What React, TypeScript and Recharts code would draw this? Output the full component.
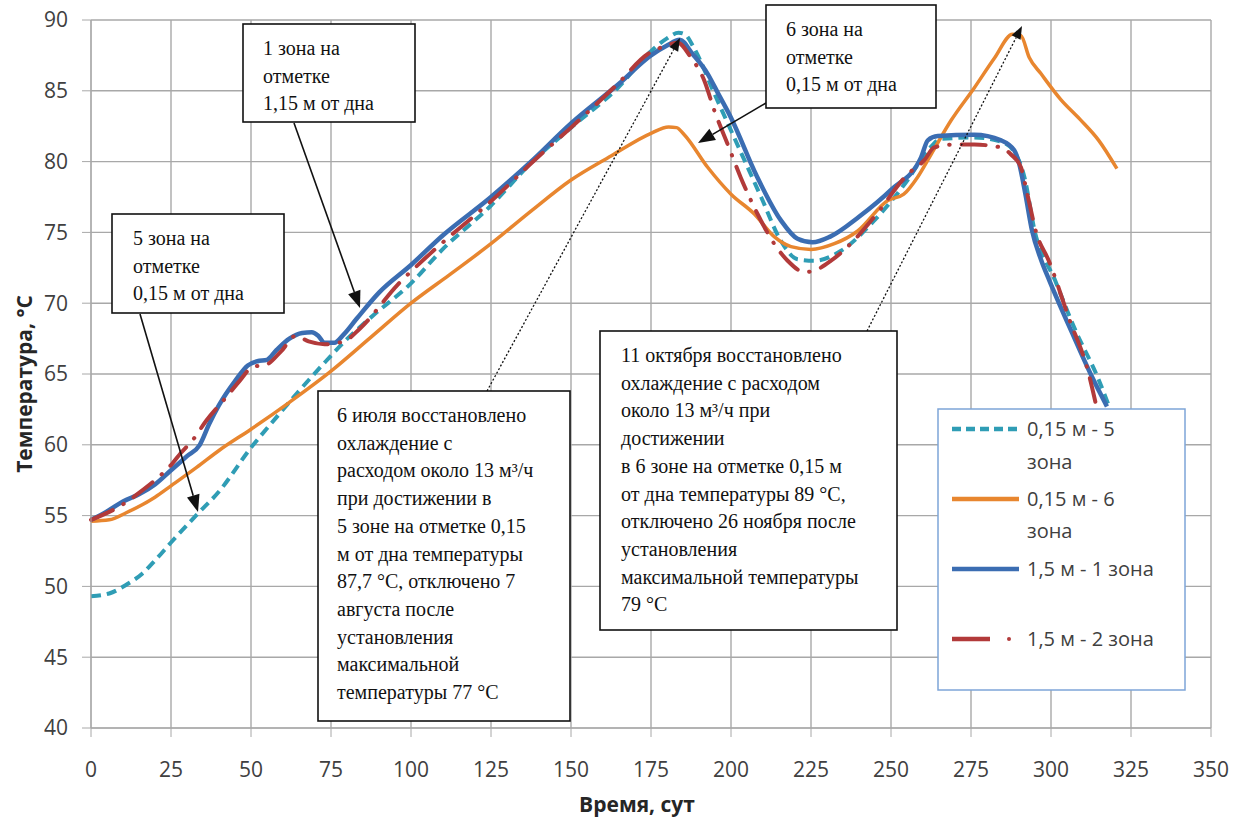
import React from "react";
import { LineChart, Line, XAxis, YAxis, CartesianGrid } from "recharts";

const dayTicks = [0, 25, 50, 75, 100, 125, 150, 175, 200, 225, 250, 275, 300, 325, 350];
const tempTicks = [40, 45, 50, 55, 60, 65, 70, 75, 80, 85, 90];

// 0,15 м - 5 зона
const zone5Days = [0, 5.7, 10.9, 16, 20.3, 25, 33, 40, 50, 57.8, 65, 73.4, 79.7, 84, 88.5, 100, 109.4, 125, 137.5, 150, 164.6, 175, 180, 183.6, 185.5, 188.5, 194.8, 202, 209.4, 215.6, 220.8, 226, 234.4, 244.8, 255.2, 261.5, 265.6, 276, 284.4, 288.5, 291.7, 294.8, 301.3, 307.6, 314.9, 318];
const zone5Temp = [49.3, 49.5, 50.1, 50.9, 51.9, 53.1, 55.05, 56.7, 59.8, 61.9, 63.8, 65.9, 67.4, 68.3, 69.2, 71.4, 73.7, 76.9, 79.9, 82.4, 85.2, 87.8, 88.7, 89.1, 89.0, 88.0, 84.8, 81.2, 77.5, 74.4, 73.1, 73.0, 73.7, 75.85, 78.7, 80.8, 81.6, 81.7, 81.4, 80.7, 78.9, 75.2, 71.6, 68.1, 64.6, 62.8];

// 0,15 м - 6 зона
const zone6Days = [0, 5.7, 11, 20, 25, 33, 40, 50, 62, 75, 87.5, 100, 112, 125, 137.5, 150, 162.5, 175, 180.5, 183, 185.4, 192.7, 200, 207.3, 213.5, 218.75, 225, 232.3, 239.6, 249, 254, 258.3, 262.5, 268.75, 276, 282.3, 288, 290.6, 293.2, 296.9, 303, 309, 314.9, 320.6];
const zone6Temp = [54.6, 54.7, 55.2, 56.3, 57.1, 58.4, 59.6, 61.1, 63.0, 65.2, 67.6, 70.0, 72.0, 74.2, 76.5, 78.7, 80.4, 82.0, 82.45, 82.4, 81.9, 79.6, 77.7, 76.3, 74.7, 74.0, 73.8, 74.2, 75.1, 77.25, 77.7, 78.9, 80.5, 82.9, 85.2, 87.3, 89.0, 88.9, 87.35, 86.2, 84.4, 83.0, 81.5, 79.5];

// 1,5 м - 1 зона
const zone1Days = [0, 5, 10, 15, 20, 25, 30, 34, 37, 40, 45, 49, 52, 55, 58, 62, 66, 69, 71, 73, 76, 79, 83, 90, 100, 110, 125, 137.5, 150, 165, 175, 180, 184, 188, 192.7, 196, 200, 208, 215.6, 220.8, 225.5, 231, 240, 250, 259.4, 261.5, 264.6, 276, 284.4, 288.5, 290, 292, 294, 297, 299.5, 306.6, 312.8, 317.5];
const zone1Temp = [54.7, 55.3, 56.0, 56.5, 57.2, 58.2, 59.2, 60.0, 61.5, 62.8, 64.5, 65.6, 65.9, 66.0, 66.7, 67.5, 67.9, 67.95, 67.7, 67.2, 67.2, 67.8, 68.9, 70.75, 72.7, 74.8, 77.5, 80.0, 82.7, 85.5, 87.5, 88.2, 88.6, 87.6, 86.2, 84.8, 83.1, 79.0, 75.85, 74.55, 74.3, 74.7, 76.1, 78.0, 80.3, 81.5, 81.8, 81.9, 81.5, 80.8, 79.9, 77.7, 75.2, 73.0, 71.6, 67.9, 64.8, 62.7];

// 1,5 м - 2 зона
const zone2Days = [0, 10, 15, 20, 25.5, 28, 32, 36, 42, 46.4, 50.5, 54.7, 59.4, 64, 68, 73, 79, 84, 95.8, 106, 125, 139.6, 150, 164.6, 174, 180, 183.3, 187.5, 191.7, 194.8, 199, 203, 208.3, 213.5, 217.7, 223, 226, 231.25, 236.5, 244.8, 255.2, 260.4, 263.5, 268.75, 276, 284.4, 287.5, 290.6, 292.5, 295.5, 299.3, 305.5, 311.8, 314];
const zone2Temp = [54.7, 55.8, 56.6, 57.5, 58.7, 59.4, 60.4, 61.7, 63.3, 64.5, 65.5, 65.65, 66.6, 67.7, 67.3, 67.1, 67.3, 68.2, 71.3, 73.5, 77.2, 80.3, 82.4, 85.5, 87.6, 88.2, 88.4, 87.35, 85.7, 83.6, 81.2, 78.9, 76.3, 74.2, 73.0, 72.2, 72.3, 73.0, 74.0, 76.1, 79.1, 80.1, 81.0, 81.2, 81.2, 81.0, 80.5, 79.6, 77.8, 74.9, 73.0, 69.0, 65.0, 62.9];

const toPoints = (days: number[], temps: number[]) => days.map((d, i) => ({ d, t: temps[i] }));

const series = [
  { key: "z5", name: "0,15 м - 5 зона", data: toPoints(zone5Days, zone5Temp), color: "#2f9db5", width: 4, dash: "10 6", cap: "butt" },
  { key: "z6", name: "0,15 м - 6 зона", data: toPoints(zone6Days, zone6Temp), color: "#e8862f", width: 3.5, dash: undefined, cap: "butt" },
  { key: "z1", name: "1,5 м - 1 зона", data: toPoints(zone1Days, zone1Temp), color: "#3b6db2", width: 4.5, dash: undefined, cap: "butt" },
  { key: "z2", name: "1,5 м - 2 зона", data: toPoints(zone2Days, zone2Temp), color: "#b23a3a", width: 4, dash: "24 12 0.5 12", cap: "round" },
];

const box1Lines = ["1 зона на", "отметке", "1,15 м от дна"];
const box2Lines = ["5 зона на", "отметке", "0,15 м от дна"];
const box3Lines = ["6 зона на", "отметке", "0,15 м от дна"];
const box4Lines = [
  "6 июля восстановлено", "охлаждение с", "расходом около 13 м³/ч", "при достижении в",
  "5 зоне на отметке 0,15", "м от дна температуры", "87,7 °С, отключено 7", "августа после",
  "установления", "максимальной", "температуры 77 °С",
];
const box5Lines = [
  "11 октября восстановлено", "охлаждение с расходом", "около 13 м³/ч при", "достижении",
  "в 6 зоне на отметке 0,15 м", "от дна температуры 89 °С,", "отключено 26 ноября после",
  "установления", "максимальной температуры", "79 °С",
];

const GRID = "#a8a8a8";
const SERIF = "'Liberation Serif', 'Times New Roman', serif";
const SANS = "'Open Sans', 'Noto Sans', sans-serif";

function NoteBox({ x, y, w, h, lines, padL, step }: { x: number; y: number; w: number; h: number; lines: string[]; padL: number; step: number }) {
  return (
    <g>
      <rect x={x} y={y} width={w} height={h} fill="#fff" stroke="#111" strokeWidth={1.6} />
      {lines.map((s, i) => (
        <text key={i} x={x + padL} y={y + 24 + i * step + 7} fontFamily={SERIF} fontSize={20} fill="#111">
          {s}
        </text>
      ))}
    </g>
  );
}

function Arrow({ x1, y1, x2, y2, dotted }: { x1: number; y1: number; x2: number; y2: number; dotted?: boolean }) {
  const a = Math.atan2(y2 - y1, x2 - x1);
  const len = dotted ? 13 : 17;
  const half = dotted ? 5 : 6.5;
  const bx = x2 - len * Math.cos(a);
  const by = y2 - len * Math.sin(a);
  const px = -Math.sin(a) * half;
  const py = Math.cos(a) * half;
  return (
    <g>
      <line x1={x1} y1={y1} x2={bx} y2={by} stroke="#111" strokeWidth={dotted ? 1.3 : 1.6} strokeDasharray={dotted ? "2 2" : undefined} />
      <polygon points={`${x2},${y2} ${bx + px},${by + py} ${bx - px},${by - py}`} fill="#111" />
    </g>
  );
}

function LegendSample({ y, s }: { y: number; s: (typeof series)[number] }) {
  if (s.key === "z2") {
    return (
      <g>
        <line x1={952} y1={y} x2={990} y2={y} stroke={s.color} strokeWidth={4.5} />
        <circle cx={1009} cy={y} r={2} fill={s.color} />
      </g>
    );
  }
  return <line x1={952} y1={y} x2={1019} y2={y} stroke={s.color} strokeWidth={4.5} strokeDasharray={s.dash ? "9 5" : undefined} />;
}

export default function App() {
  const legendText = { fontFamily: SANS, fontSize: 20, fill: "#404040" };
  return (
    <div style={{ position: "relative", width: 1246, height: 820, background: "#fff" }}>
      <style>{"body{margin:0}"}</style>
      <LineChart width={1246} height={820} margin={{ top: 20, right: 35, left: 0, bottom: 0 }} style={{ fontFamily: SANS }}>
        <CartesianGrid stroke={GRID} strokeWidth={1.4} />
        <XAxis
          type="number"
          dataKey="d"
          domain={[0, 350]}
          ticks={dayTicks}
          interval={0}
          height={92}
          tickSize={9}
          tickMargin={25}
          stroke={GRID}
          tick={{ fill: "#404040", fontSize: 21 }}
        />
        <YAxis
          type="number"
          dataKey="t"
          domain={[40, 90]}
          ticks={tempTicks}
          interval={0}
          width={91}
          tickSize={9}
          tickMargin={14}
          stroke={GRID}
          tick={{ fill: "#404040", fontSize: 21 }}
        />
        {series.map((s) => (
          <Line
            key={s.key}
            data={s.data}
            dataKey="t"
            name={s.name}
            type="monotone"
            stroke={s.color}
            strokeWidth={s.width}
            strokeDasharray={s.dash}
            strokeLinecap={s.cap as "butt" | "round"}
            dot={false}
            activeDot={false}
            isAnimationActive={false}
          />
        ))}
      </LineChart>

      <svg width={1246} height={820} style={{ position: "absolute", left: 0, top: 0, pointerEvents: "none" }}>
        <text x={32} y={384} transform="rotate(-90 32 384)" textAnchor="middle" fontFamily={SANS} fontSize={21} fontWeight="bold" fill="#262626">
          Температура, °С
        </text>
        <text x={637} y={812} textAnchor="middle" fontFamily={SANS} fontSize={21} fontWeight="bold" fill="#262626">
          Время, сут
        </text>

        <Arrow x1={294} y1={123} x2={360} y2={308} />
        <Arrow x1={140} y1={314} x2={198} y2={512} />
        <Arrow x1={766} y1={103} x2={698} y2={143} />
        <Arrow x1={487} y1={391} x2={680} y2={38} dotted />
        <Arrow x1={867} y1={331} x2={1022} y2={26} dotted />

        <NoteBox x={243} y={24} w={172} h={98} lines={box1Lines} padL={20} step={27.5} />
        <NoteBox x={112} y={214} w={172} h={99} lines={box2Lines} padL={21} step={27.5} />
        <NoteBox x={766} y={5} w={170} h={103} lines={box3Lines} padL={20} step={27.5} />
        <NoteBox x={318} y={391} w={252} h={330} lines={box4Lines} padL={19} step={27.7} />
        <NoteBox x={600} y={331} w={297} h={299} lines={box5Lines} padL={21} step={27.7} />

        <rect x={938} y={409} width={247} height={281} fill="#fff" stroke="#7ea5d8" strokeWidth={1.5} />
        <LegendSample y={429} s={series[0]} />
        <text x={1027} y={436} {...legendText}>0,15 м - 5</text>
        <text x={1027} y={469} {...legendText}>зона</text>
        <LegendSample y={499} s={series[1]} />
        <text x={1027} y={506} {...legendText}>0,15 м - 6</text>
        <text x={1027} y={538} {...legendText}>зона</text>
        <LegendSample y={569} s={series[2]} />
        <text x={1027} y={576} {...legendText}>1,5 м - 1 зона</text>
        <LegendSample y={639} s={series[3]} />
        <text x={1027} y={646} {...legendText}>1,5 м - 2 зона</text>
      </svg>
    </div>
  );
}
